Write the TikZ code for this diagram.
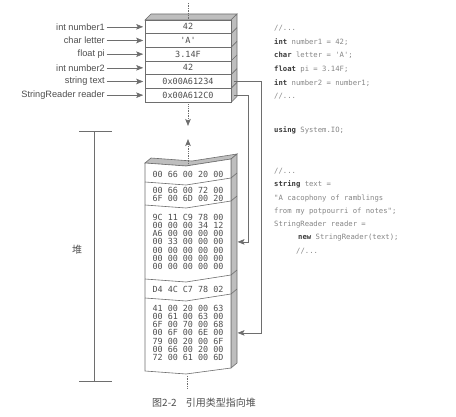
\documentclass[tikz,border=0pt]{standalone}
\usepackage{fontspec}
\setmainfont{Liberation Sans}
\newfontfamily\codefont{DejaVu Sans Mono}[Ligatures=TeXOff]
\newfontfamily\cjkfont{Noto Sans CJK SC}
\usetikzlibrary{arrows.meta,calc}
\definecolor{ln}{HTML}{6E6E6E}
\definecolor{txt}{HTML}{4E4E4E}
\definecolor{face}{HTML}{BEBEBE}
\definecolor{kwc}{HTML}{3A3A3A}
\definecolor{cdc}{HTML}{858585}
\newcommand\kwd[1]{\textcolor{kwc}{\bfseries #1}}
\newcommand\zz[1]{(145,#1) -- (186,#1+3) -- (231,#1-4)}
\begin{document}
\begin{tikzpicture}[x=1pt,y=-1pt,
  tipa/.style={-{Stealth[length=7pt,width=5.5pt,inset=1.5pt]}},
  conn/.style={draw=ln,line width=0.6pt},
  dots/.style={draw=ln,line width=0.7pt,densely dotted},
  lbl/.style={anchor=east,font=\fontsize{9.2}{10}\selectfont,text=txt,inner sep=0pt},
  cell/.style={draw=ln,line width=0.6pt,fill=white,minimum width=86pt,minimum height=13.67pt,inner sep=0pt,font=\codefont\fontsize{8.5}{9}\selectfont,text=txt},
  hx/.style={font=\codefont\fontsize{8.4}{9}\selectfont,text=txt,inner sep=0pt},
  code/.style={anchor=west,inner sep=0pt,font=\codefont\fontsize{7.25}{8}\selectfont,text=cdc},
  facep/.style={draw=ln,line width=0.6pt,fill=face},
  edge/.style={draw=ln,line width=0.6pt}
]
\useasboundingbox (0,0) rectangle (456,417);

% ---------- stack ----------
\path[facep] (145,20) -- (151,14) -- (237,14) -- (231,20) -- cycle;
\path[facep] (231,20) -- (237,14) -- (237,96.5) -- (231,102.5) -- cycle;
\foreach \yy in {33.67,47.33,61,74.67,88.33}
  \draw[edge] (231,\yy) -- (237,\yy-6);
\node[cell] (s1) at (188,26.83) {42};
\node[cell] (s2) at (188,40.5) {\symbol{39}A\symbol{39}};
\node[cell] (s3) at (188,54.17) {3.14F};
\node[cell] (s4) at (188,67.83) {42};
\node[cell] (s5) at (188,81.5) {0x00A61234};
\node[cell] (s6) at (188,95.17) {0x00A612C0};

% labels
\node[lbl] (l1) at (105,26.83) {int number1};
\node[lbl] (l2) at (105,40.5) {char letter};
\node[lbl] (l3) at (105,54.17) {float pi};
\node[lbl] (l4) at (105,67.83) {int number2};
\node[lbl] (l5) at (105,81.5) {string text};
\node[lbl] (l6) at (105,95.17) {StringReader reader};
\foreach \i in {1,...,6}
  \draw[conn,tipa] ([xshift=1.5pt]l\i.east) -- ([xshift=-1.5pt]s\i.west);

% dotted lines around stack
\coordinate (d0) at (188,3);
\draw[dots] (d0) -- ([yshift=1pt]s1.north);
\coordinate (d1) at (188,104.5);
\coordinate (d2) at (188,126);
\draw[dots,tipa] (d1) -- (d2);

% ---------- heap ----------
\path[facep] (145,163) -- (186,166) -- (231,159) -- (237,154) -- (192,161) -- (151,158) -- cycle;
\path[facep] (231,159) -- (237,154) -- (237,363) -- (231,368) -- cycle;
\path[edge,fill=white] (145,163) -- (186,166) -- (231,159) -- (231,368) -- (186,374) -- (145,371) -- cycle;
\foreach \yy in {182,205,279,298}
  \draw[edge] \zz{\yy} -- (237,\yy-9);

\node[hx] (h1) at (188,174) {00 66 00 20 00};
\node[hx] (h2a) at (188,190) {00 66 00 72 00};
\node[hx] (h2b) at (188,198) {6F 00 6D 00 20};
\node[hx] (h3a) at (188,217) {9C 11 C9 78 00};
\node[hx] (h3b) at (188,225.3) {00 00 00 34 12};
\node[hx] (h3c) at (188,233.6) {A6 00 00 00 00};
\node[hx] (h3d) at (188,241.9) {00 33 00 00 00};
\node[hx] (h3e) at (188,250.2) {00 00 00 00 00};
\node[hx] (h3f) at (188,258.5) {00 00 00 00 00};
\node[hx] (h3g) at (188,266.8) {00 00 00 00 00};
\node[hx] (h4) at (188,289) {D4 4C C7 78 02};
\node[hx] (h5a) at (188,308) {41 00 20 00 63};
\node[hx] (h5b) at (188,316.3) {00 61 00 63 00};
\node[hx] (h5c) at (188,324.6) {6F 00 70 00 68};
\node[hx] (h5d) at (188,332.9) {00 6F 00 6E 00};
\node[hx] (h5e) at (188,341.2) {79 00 20 00 6F};
\node[hx] (h5f) at (188,349.5) {00 66 00 20 00};
\node[hx] (h5g) at (188,357.8) {72 00 61 00 6D};

% dotted around heap
\coordinate (u0) at (188,165.5);
\coordinate (u1) at (188,139);
\draw[dots,tipa] (u0) -- (u1);
\coordinate (b0) at (187,376);
\coordinate (b1) at (187,389);
\draw[dots] (b0) -- (b1);

% pointers
\coordinate (e1) at ($(h3d)+(49.5,0)$);
\coordinate (e2) at ($(h5d)+(49.5,0)$);
\draw[conn,tipa] ([xshift=3pt]s6.east) -- ++(14,0) |- (e1);
\draw[conn,tipa] ([xshift=3pt]s5.east) -- ++(27,0) |- (e2);

% heap bracket
\draw[edge] (79,131.5) -- (112,131.5);
\draw[edge] (94,131.5) -- (94,381);
\draw[edge] (79,381) -- (112,381);
\node[font=\cjkfont\fontsize{10}{12}\selectfont,text=txt,inner sep=0pt] (heap) at (77,250) {堆};

% ---------- code ----------
\node[code] (c1) at (274,28) {//...};
\node[code] (c2) at (274,41.7) {\kwd{int} number1 = 42;};
\node[code] (c3) at (274,55.4) {\kwd{char} letter = \symbol{39}A\symbol{39};};
\node[code] (c4) at (274,69.1) {\kwd{float} pi = 3.14F;};
\node[code] (c5) at (274,82.8) {\kwd{int} number2 = number1;};
\node[code] (c6) at (274,96.5) {//...};
\node[code] (c7) at (274,130) {\kwd{using} System.IO;};
\node[code] (c8) at (274,171.5) {//...};
\node[code] (c9) at (274,184.8) {\kwd{string} text =};
\node[code] (c10) at (274,198.1) {"A cacophony of ramblings};
\node[code] (c11) at (274,211.4) {from my potpourri of notes";};
\node[code] (c12) at (274,224.7) {StringReader reader =};
\node[code] (c13) at (298,238) {\kwd{new} StringReader(text);};
\node[code] (c14) at (296,251.3) {//...};

% caption
\node[anchor=west,font=\cjkfont\fontsize{10}{12}\selectfont,text=txt,inner sep=0pt] (cap) at (152,403) {图2-2\hspace{0.9em}引用类型指向堆};
\end{tikzpicture}
\end{document}
